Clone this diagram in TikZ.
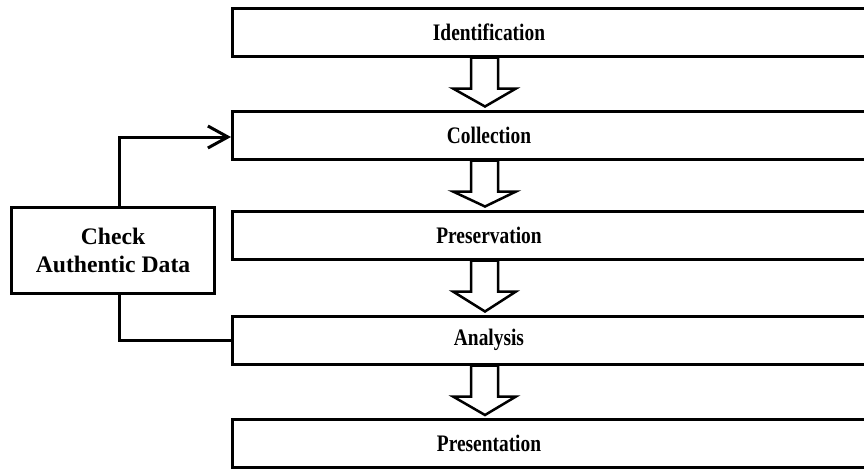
\documentclass[tikz,border=0pt]{standalone}
\usepackage{fontspec}
\setmainfont{Liberation Serif}
\usetikzlibrary{arrows.meta, calc, positioning}
\tikzset{
  stepbox/.style={draw, line width=0.09cm, anchor=west, minimum width=20.4cm, minimum height=1.44cm, inner sep=0pt},
  steptext/.style={font=\bfseries\fontsize{20.2}{24}\selectfont, inner sep=0pt},
  checkbox/.style={draw, line width=0.09cm, minimum width=6.06cm, minimum height=2.58cm, align=center, font=\bfseries\fontsize{20.2}{23.8}\selectfont},
  hollow/.style={line width=0.075cm, line join=miter},
  link/.style={line width=0.09cm}
}
\newcommand{\narrowtext}[1]{\scalebox{0.82}[1]{#1}}

\begin{document}
\begin{tikzpicture}[x=0.03cm, y=-0.03cm]
    \useasboundingbox (0,0) rectangle (864,470);
    \clip (0,0) rectangle (864,470);
    \node[stepbox] (ident) at (231, 32) {};
    \node[stepbox] (coll) at (231, 135) {};
    \node[stepbox] (pres) at (231, 235) {};
    \node[stepbox] (anal) at (231, 340) {};
    \node[stepbox] (prest) at (231, 443.5) {};
    \node[steptext] at ($(ident.west)+(258,0)$) {\narrowtext{Identification}};
    \node[steptext] at ($(coll.west)+(258,0)$) {\narrowtext{Collection}};
    \node[steptext] at ($(pres.west)+(258,0)$) {\narrowtext{Preservation}};
    \node[steptext] at ($(anal.west)+(258,0)$) {\narrowtext{Analysis}};
    \node[steptext] at ($(prest.west)+(258,0)$) {\narrowtext{Presentation}};
    \foreach \a/\b in {ident/coll, coll/pres, pres/anal, anal/prest}
        \draw[hollow] ($(\a.south west)+(240,0)$) -- ($(\a.south west)+(240,31)$)
            -- ($(\a.south west)+(222,31)$) -- ($(\b.north west)+(254,-3)$)
            -- ($(\a.south west)+(285,31)$) -- ($(\a.south west)+(267,31)$)
            -- ($(\a.south west)+(267,0)$) -- cycle;
    \node[checkbox] (check) at (113, 250) {Check\\Authentic Data};
    \draw[link, -{Straight Barb[length=0.6cm, width=0.66cm, line width=0.09cm]}] ($(check.north)+(6,0)$) |- ($(coll.west)+(0,2)$);
    \draw[link] ($(check.south)+(6,0)$) |- (anal.west);
\end{tikzpicture}
\end{document}
